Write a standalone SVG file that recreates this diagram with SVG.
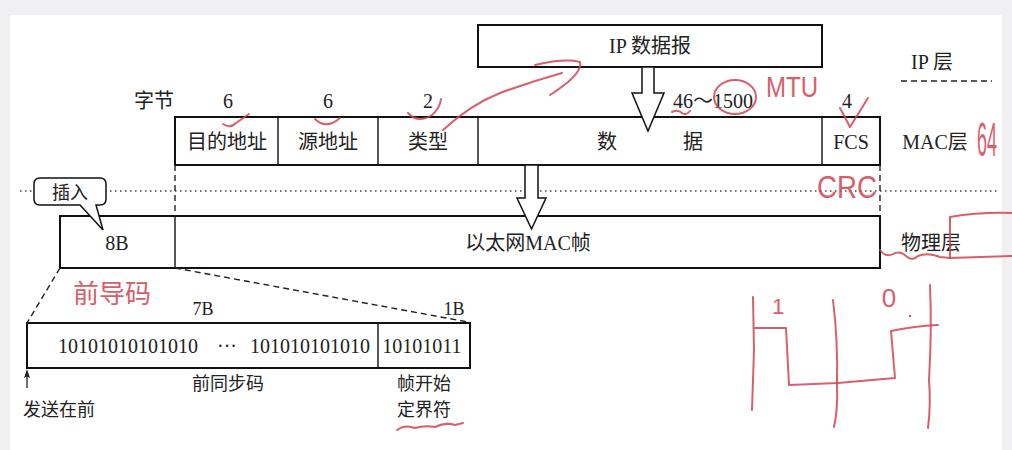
<svg xmlns="http://www.w3.org/2000/svg" width="1012" height="450" viewBox="0 0 1012 450">
<style>
.t{font-family:"Liberation Serif","Noto Sans CJK SC",serif;fill:#222;font-size:20px}
.s{font-size:18px}
.box{fill:none;stroke:#111;stroke-width:2}
.div{stroke:#111;stroke-width:1.4}
.dash{stroke:#222;stroke-width:1.4;stroke-dasharray:6,4;fill:none}
.dot{stroke:#444;stroke-width:1.5;stroke-dasharray:1.5,3.5}
.arw{fill:#fff;stroke:#111;stroke-width:1.5;stroke-linejoin:miter}
.red{fill:none;stroke:#d04452;stroke-width:2;stroke-linecap:round;stroke-linejoin:round;opacity:.85}
.rt{font-family:"Liberation Sans","Noto Sans CJK SC",sans-serif;fill:#d04452;opacity:.85}
</style>
<rect width="1012" height="450" fill="#f0f0f2"/>
<rect x="10" y="15" width="992" height="435" fill="#fff"/>

<g id="layer-lines">
<line class="dot" x1="20" y1="191" x2="1000" y2="191"/>
<line class="dash" x1="901" y1="81" x2="992" y2="81"/>
</g>

<g id="ip-datagram">
<rect class="box" x="478" y="25" width="344" height="42"/>
<text class="t" x="650" y="53" text-anchor="middle">IP 数据报</text>
</g>

<g id="layer-labels">
<text class="t" x="932" y="69" text-anchor="middle">IP 层</text>
<text class="t" x="935" y="149" text-anchor="middle">MAC层</text>
<text class="t" x="931" y="250" text-anchor="middle">物理层</text>
</g>

<g id="byte-labels">
<text class="t" x="154" y="108" text-anchor="middle">字节</text>
<text class="t" x="228" y="108" text-anchor="middle">6</text>
<text class="t" x="328" y="108" text-anchor="middle">6</text>
<text class="t" x="428" y="108" text-anchor="middle">2</text>
<text class="t" x="713" y="108" text-anchor="middle">46～1500</text>
<text class="t" x="847" y="108" text-anchor="middle">4</text>
</g>

<g id="mac-frame">
<rect class="box" x="175" y="117" width="705" height="48"/>
<line class="div" x1="278" y1="117" x2="278" y2="165"/>
<line class="div" x1="378" y1="117" x2="378" y2="165"/>
<line class="div" x1="478" y1="117" x2="478" y2="165"/>
<line class="div" x1="822" y1="117" x2="822" y2="165"/>
<text class="t" x="227" y="149" text-anchor="middle">目的地址</text>
<text class="t" x="328" y="149" text-anchor="middle">源地址</text>
<text class="t" x="428" y="149" text-anchor="middle">类型</text>
<text class="t" x="607" y="149" text-anchor="middle">数</text>
<text class="t" x="693" y="149" text-anchor="middle">据</text>
<text class="t" x="851" y="149" text-anchor="middle">FCS</text>
</g>

<g id="physical-frame">
<rect class="box" x="60" y="216" width="820" height="52"/>
<line class="div" x1="175" y1="216" x2="175" y2="268"/>
<text class="t" x="117" y="250" text-anchor="middle">8B</text>
<text class="t" x="528" y="250" text-anchor="middle">以太网MAC帧</text>
</g>

<g id="insert-callout">
<path class="arw" d="M40,178 H100 Q106,178 106,184 V199 Q106,205 100,205 H96 L103,230 L80,205 H40 Q34,205 34,199 V184 Q34,178 40,178 Z" stroke-width="1.3"/>
<text class="t s" x="70" y="199" text-anchor="middle">插入</text>
</g>

<g id="preamble">
<rect class="box" x="27" y="323" width="443" height="45"/>
<line class="div" x1="378" y1="323" x2="378" y2="368"/>
<text class="t" x="58" y="353">10101010101010</text>
<text class="t" x="227" y="353" text-anchor="middle">···</text>
<text class="t" x="250" y="353">101010101010</text>
<text class="t" x="422" y="353" text-anchor="middle">10101011</text>
<text class="t s" x="203" y="315" text-anchor="middle">7B</text>
<text class="t s" x="454" y="315" text-anchor="middle">1B</text>
<text class="t s" x="228" y="390" text-anchor="middle">前同步码</text>
<text class="t s" x="424" y="390" text-anchor="middle">帧开始</text>
<text class="t s" x="424" y="416" text-anchor="middle">定界符</text>
<text class="t s" x="59" y="416" text-anchor="middle">发送在前</text>
</g>

<g id="connectors">
<line class="dash" x1="175" y1="165" x2="175" y2="216"/>
<line class="dash" x1="880" y1="165" x2="880" y2="216"/>
<line class="dash" x1="60" y1="268" x2="27" y2="323"/>
<line class="dash" x1="175" y1="268" x2="468" y2="322"/>
<line x1="27" y1="388" x2="27" y2="376" stroke="#222" stroke-width="1.3"/>
<polygon points="27,369 24,378 27,376.5 30,378" fill="#222"/>
<polygon class="arw" points="642,67 654,67 654,93 664,93 648,131 632,93 642,93"/>
<polygon class="arw" points="525,165 538,165 538,198 546,198 531.5,229 517,198 525,198"/>
</g>

<g id="annotations">
<path class="red" d="M223,124 Q230,129 236,123 L249,114"/>
<path class="red" d="M315,119 Q326,130 340,118"/>
<path class="red" d="M408,113 Q418,124 432,115 Q440,108 441,99"/>
<path class="red" d="M443,130 Q470,105 500,93 Q530,82 562,73"/>
<path class="red" d="M535,65 Q565,58 580,62 Q582,70 568,82 Q558,90 550,95"/>
<ellipse class="red" cx="735" cy="97" rx="21" ry="17"/>
<path class="red" d="M672,112 Q678,109 682,113 Q686,116 690,111"/>
<path class="red" d="M840,108 L850,127 L868,98"/>
<text class="rt" x="792" y="97" text-anchor="middle" font-size="30" textLength="52" lengthAdjust="spacingAndGlyphs">MTU</text>
<text class="rt" x="847" y="198" text-anchor="middle" font-size="32" textLength="60" lengthAdjust="spacingAndGlyphs">CRC</text>
<text class="rt" font-size="24" transform="translate(977,156) scale(0.75,2)">64</text>
<text class="rt" x="73" y="303" font-size="26">前导码</text>
<path class="red" d="M397,430 Q405,424 415,428 Q425,425 435,427 Q445,422 455,425 L463,423"/>
<path class="red" d="M880,250 Q886,258 893,254 Q900,250 906,256 Q912,262 918,256 Q928,252 940,257 L950,258 L1012,256"/>
<path class="red" d="M950,258 L950,217 Q980,212 1012,213"/>
<path class="red" d="M753,297 L754,350 L752,410"/>
<path class="red" d="M755,328 L786,328 L789,385 L838,383 L895,378 L891,331 Q915,326 938,325"/>
<path class="red" d="M833,300 Q838,340 837,383 Q838,410 834,427"/>
<path class="red" d="M930,285 Q932,330 929,380 Q931,405 928,428"/>
<text class="rt" x="778" y="314" text-anchor="middle" font-size="22">1</text>
<text class="rt" x="889" y="307" text-anchor="middle" font-size="26">0</text>
<circle cx="910" cy="316" r="1.2" fill="#d04452"/>
</g>
</svg>
